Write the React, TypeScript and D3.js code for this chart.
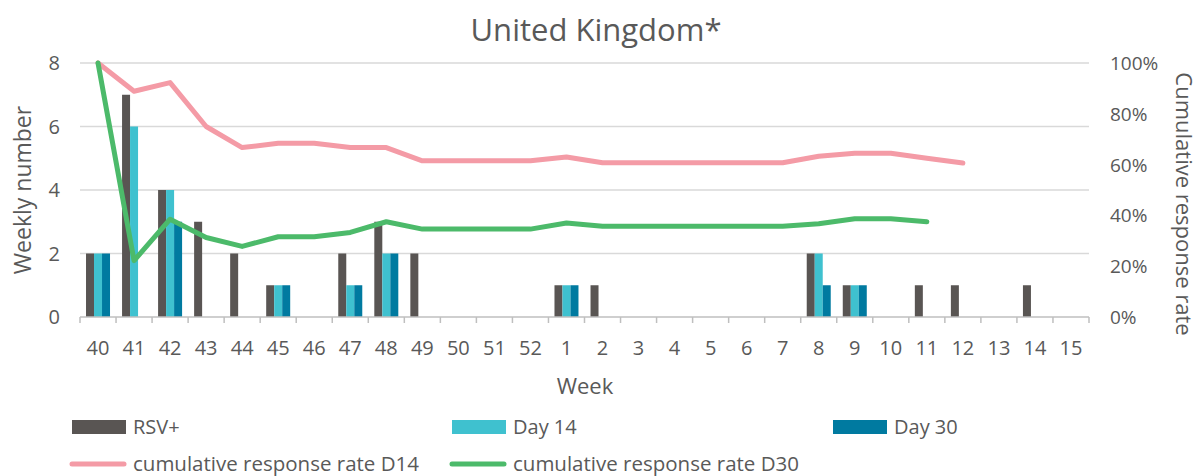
import { useEffect, useRef } from "react";
import * as d3 from "d3";

const weeks = [
  "40", "41", "42", "43", "44", "45", "46", "47", "48", "49", "50", "51", "52",
  "1", "2", "3", "4", "5", "6", "7", "8", "9", "10", "11", "12", "13", "14", "15",
];
const rsvPositive = [2, 7, 4, 3, 2, 1, 0, 2, 3, 2, 0, 0, 0, 1, 1, 0, 0, 0, 0, 0, 2, 1, 0, 1, 1, 0, 1, 0];
const day14 = [2, 6, 4, 0, 0, 1, 0, 1, 2, 0, 0, 0, 0, 1, 0, 0, 0, 0, 0, 0, 2, 1, 0, 0, 0, 0, 0, 0];
const day30 = [2, 0, 3, 0, 0, 1, 0, 1, 2, 0, 0, 0, 0, 1, 0, 0, 0, 0, 0, 0, 1, 1, 0, 0, 0, 0, 0, 0];
// cumulative response rates (null = no value)
const rateD14: (number | null)[] = [
  1.0, 0.889, 0.923, 0.75, 0.667, 0.684, 0.684, 0.667, 0.667, 0.615, 0.615, 0.615, 0.615,
  0.63, 0.607, 0.607, 0.607, 0.607, 0.607, 0.607, 0.633, 0.645, 0.645, 0.625, 0.606, null, null, null,
];
const rateD30: (number | null)[] = [
  1.0, 0.222, 0.385, 0.313, 0.278, 0.316, 0.316, 0.333, 0.375, 0.346, 0.346, 0.346, 0.346,
  0.37, 0.357, 0.357, 0.357, 0.357, 0.357, 0.357, 0.367, 0.387, 0.387, 0.375, null, null, null, null,
];
const leftTicks = [0, 2, 4, 6, 8];
const rightTicks = [0, 0.2, 0.4, 0.6, 0.8, 1];

const barSeries = [
  { name: "RSV+", values: rsvPositive, color: "#595553" },
  { name: "Day 14", values: day14, color: "#3fc1cf" },
  { name: "Day 30", values: day30, color: "#007aa0" },
];
const lineSeries = [
  { name: "cumulative response rate D14", values: rateD14, color: "#f49ba6" },
  { name: "cumulative response rate D30", values: rateD30, color: "#4cba6a" },
];

export default function App() {
  const ref = useRef<SVGSVGElement | null>(null);

  useEffect(() => {
    const width = 1201,
      height = 476,
      margin = { top: 63, right: 112, bottom: 159, left: 80 };
    const font = "'Open Sans', sans-serif";
    const textColor = "#595959";
    const svg = d3.select(ref.current);
    svg.selectAll("*").remove();

    const x = d3
      .scaleBand<string>()
      .domain(weeks)
      .range([margin.left, width - margin.right])
      .paddingInner(0)
      .paddingOuter(0);
    const xSub = d3
      .scaleBand<string>()
      .domain(barSeries.map(s => s.name))
      .range([0, 24]);
    const y = d3.scaleLinear().domain([0, 8]).range([height - margin.bottom, margin.top]);
    const yR = d3.scaleLinear().domain([0, 1]).range([height - margin.bottom, margin.top]);

    // gridlines
    svg
      .append("g")
      .selectAll("line")
      .data(leftTicks.slice(1))
      .enter()
      .append("line")
      .attr("x1", margin.left)
      .attr("x2", width - margin.right)
      .attr("y1", d => y(d))
      .attr("y2", d => y(d))
      .attr("stroke", "#d9d9d9")
      .attr("stroke-width", 1.5);

    // bars
    barSeries.forEach(s => {
      svg
        .append("g")
        .selectAll("rect")
        .data(s.values.map((v, i) => ({ week: weeks[i], v })).filter(d => d.v > 0))
        .enter()
        .append("rect")
        .attr("x", d => x(d.week)! + (x.bandwidth() - 24) / 2 + xSub(s.name)!)
        .attr("y", d => y(d.v))
        .attr("width", xSub.bandwidth())
        .attr("height", d => y(0) - y(d.v))
        .attr("fill", s.color);
    });

    // x axis line + ticks
    const axisG = svg.append("g");
    axisG
      .append("line")
      .attr("x1", margin.left)
      .attr("x2", width - margin.right)
      .attr("y1", y(0))
      .attr("y2", y(0))
      .attr("stroke", "#bfbfbf")
      .attr("stroke-width", 1.5);
    const tickPos = weeks.map(w => x(w)!).concat([width - margin.right]);
    axisG
      .selectAll("line.tick")
      .data(tickPos)
      .enter()
      .append("line")
      .attr("class", "tick")
      .attr("x1", d => d)
      .attr("x2", d => d)
      .attr("y1", y(0))
      .attr("y2", y(0) + 6)
      .attr("stroke", "#bfbfbf")
      .attr("stroke-width", 1.5);

    // lines
    lineSeries.forEach(s => {
      svg
        .append("path")
        .datum(s.values.map((v, i) => ({ week: weeks[i], v })))
        .attr("fill", "none")
        .attr("stroke", s.color)
        .attr("stroke-width", 5)
        .attr("stroke-linecap", "round")
        .attr("stroke-linejoin", "round")
        .attr(
          "d",
          d3
            .line<{ week: string; v: number | null }>()
            .defined(d => d.v !== null)
            .x(d => x(d.week)! + x.bandwidth() / 2)
            .y(d => yR(d.v as number))
        );
    });

    // tick labels
    svg
      .append("g")
      .selectAll("text")
      .data(weeks)
      .enter()
      .append("text")
      .attr("x", d => x(d)! + x.bandwidth() / 2)
      .attr("y", y(0) + 38)
      .attr("text-anchor", "middle")
      .attr("font-family", font)
      .attr("font-size", 20)
      .attr("fill", textColor)
      .text(d => d);

    svg
      .append("g")
      .selectAll("text")
      .data(leftTicks)
      .enter()
      .append("text")
      .attr("x", 60)
      .attr("y", d => y(d) + 7)
      .attr("text-anchor", "end")
      .attr("font-family", font)
      .attr("font-size", 20)
      .attr("fill", textColor)
      .text(d => d);

    svg
      .append("g")
      .selectAll("text")
      .data(rightTicks)
      .enter()
      .append("text")
      .attr("x", 1110)
      .attr("y", d => yR(d) + 7)
      .attr("text-anchor", "start")
      .attr("font-family", font)
      .attr("font-size", 19)
      .attr("fill", textColor)
      .text(d => d3.format(".0%")(d));

    // titles
    svg
      .append("text")
      .attr("x", 596)
      .attr("y", 41)
      .attr("text-anchor", "middle")
      .attr("font-family", font)
      .attr("font-size", 31)
      .attr("fill", textColor)
      .text("United Kingdom*");
    svg
      .append("text")
      .attr("x", 585)
      .attr("y", 394)
      .attr("text-anchor", "middle")
      .attr("font-family", font)
      .attr("font-size", 22)
      .attr("fill", textColor)
      .text("Week");
    svg
      .append("text")
      .attr("transform", `translate(31,190) rotate(-90)`)
      .attr("text-anchor", "middle")
      .attr("font-family", font)
      .attr("font-size", 23)
      .attr("fill", textColor)
      .text("Weekly number");
    svg
      .append("text")
      .attr("transform", `translate(1176,204) rotate(90)`)
      .attr("text-anchor", "middle")
      .attr("font-family", font)
      .attr("font-size", 22)
      .attr("fill", textColor)
      .text("Cumulative response rate");

    // legend
    const legendBars = [
      { s: barSeries[0], x: 72 },
      { s: barSeries[1], x: 452 },
      { s: barSeries[2], x: 833 },
    ];
    legendBars.forEach(({ s, x: lx }) => {
      svg
        .append("rect")
        .attr("x", lx)
        .attr("y", 420)
        .attr("width", 54)
        .attr("height", 14)
        .attr("fill", s.color);
      svg
        .append("text")
        .attr("x", lx + 61)
        .attr("y", 434)
        .attr("font-family", font)
        .attr("font-size", 20)
        .attr("fill", textColor)
        .text(s.name);
    });
    const legendLines = [
      { s: lineSeries[0], x: 72 },
      { s: lineSeries[1], x: 452 },
    ];
    legendLines.forEach(({ s, x: lx }) => {
      svg
        .append("line")
        .attr("x1", lx)
        .attr("x2", lx + 52)
        .attr("y1", 464)
        .attr("y2", 464)
        .attr("stroke", s.color)
        .attr("stroke-width", 5)
        .attr("stroke-linecap", "round");
      svg
        .append("text")
        .attr("x", lx + 61)
        .attr("y", 471)
        .attr("font-family", font)
        .attr("font-size", 20.5)
        .attr("fill", textColor)
        .text(s.name);
    });
  }, []);

  return (
    <svg
      ref={ref}
      width={1201}
      height={476}
      style={{ position: "absolute", left: 0, top: 0, background: "#fff" }}
    />
  );
}
